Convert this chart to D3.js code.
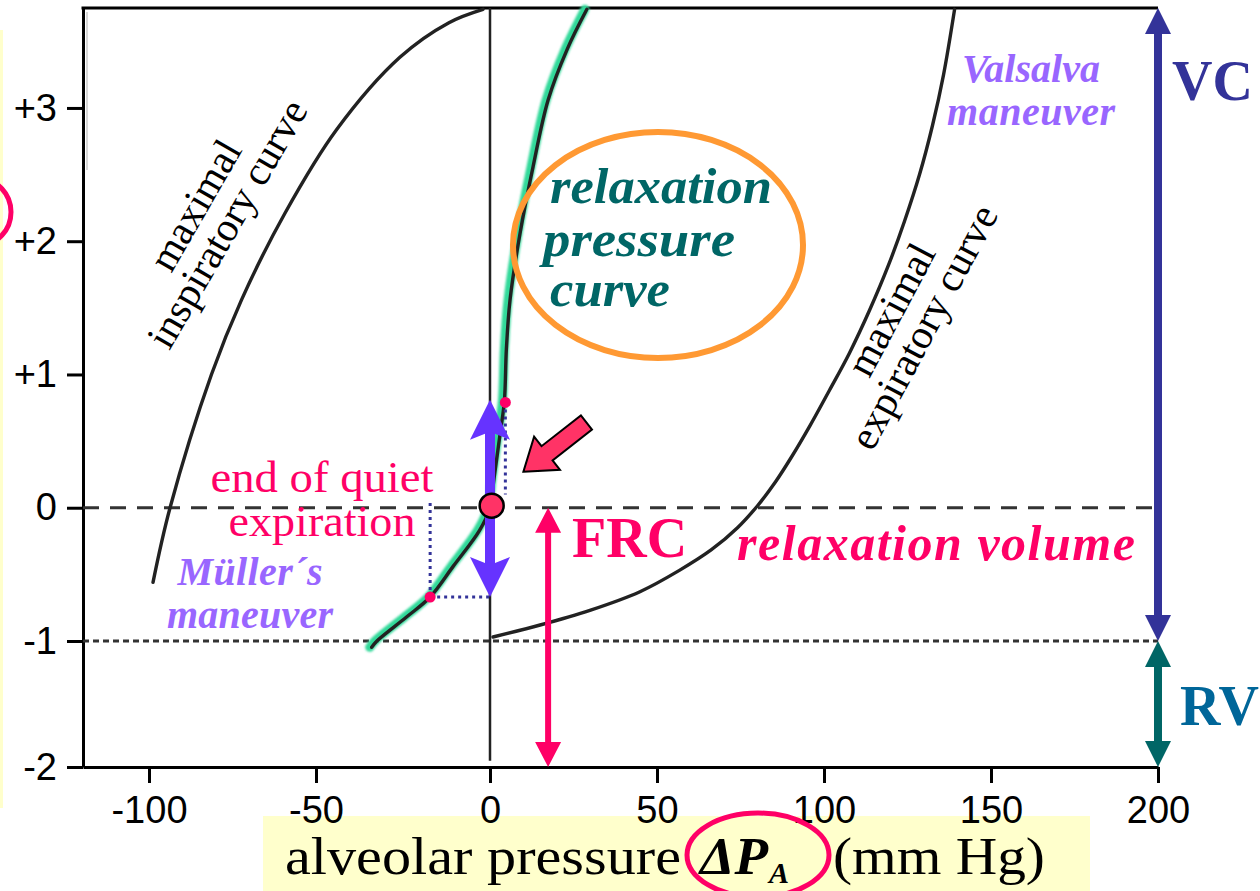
<!DOCTYPE html>
<html><head><meta charset="utf-8">
<script src="https://cdn.jsdelivr.net/npm/d3@7"></script>
<style>body{margin:0;background:#fff;overflow:hidden} svg{display:block}</style>
</head><body><svg id="c" width="1260" height="891"></svg>
<script>
// ---- data ----
const xTickValues = [-100, -50, 0, 50, 100, 150, 200];
const xTickLabels = ["-100", "-50", "0", "50", "100", "150", "200"];
const yTickValues = [3, 2, 1, 0, -1, -2];
const yTickLabels = ["+3", "+2", "+1", "0", "-1", "-2"];

const inspPressure = [-98.8, -93.7, -81.3, -72.3, -59.3, -44.0, -25.9, -11.8, -2.0];
const inspVolume   = [-0.56, 0, 1.0, 1.56, 2.21, 2.84, 3.38, 3.64, 3.74];

const relaxPressure = [-34, -32.5, -24, -17.2, -10.6, -3, 0, 1.2, 3, 4.3, 4.9, 6, 9, 12.9, 17.4, 23.1, 29];
const relaxVolume   = [-1.05, -1.0, -0.82, -0.67, -0.44, -0.17, 0, 0.22, 0.55, 0.8, 1.19, 1.56, 2.06, 2.56, 3.06, 3.44, 3.74];

const expPressure = [0.9, 15.0, 29.9, 44.9, 56.7, 66.3, 74.1, 80.1, 85.5, 90.5, 95.9, 101.6, 107.6, 113.6, 119.3, 124.1, 128.6, 132.5, 135.8, 139.1];
const expVolume   = [-0.97, -0.88, -0.77, -0.63, -0.47, -0.315, -0.15, 0.015, 0.195, 0.39, 0.62, 0.88, 1.16, 1.48, 1.82, 2.15, 2.5, 2.87, 3.25, 3.74];

const frcVolume = 0;          // end of quiet expiration
const rvVolume = -1;          // residual volume level
const topVolume = 3.75;
const bottomVolume = -2;
const zeroLineBottom = -1.95;
const frcArrowPressure = 17.4;
const tidalRange = [0.81, -0.67];
const mullerPoint = [-17.2, -0.67];
const valsalvaPoint = [4.6, 0.79];
const frcPoint = [0.5, 0.015];
const hintArrowTip = [10, 0.27];

// ---- scales ----
const x = d3.scaleLinear().domain([-120, -100, -50, 0, 200]).range([83, 149, 316, 490, 1158]);
const y = d3.scaleLinear().domain([-2, -1, 3.75]).range([767, 641, 8]);

const svg = d3.select("#c");
const serif = "'Liberation Serif','Times New Roman',serif";
const sans = "'Liberation Sans',Arial,sans-serif";

// background decorations
svg.append("rect").attr("x", 0).attr("y", 30).attr("width", 3).attr("height", 778).attr("fill", "#ffffcc");
svg.append("ellipse").attr("cx", -20).attr("cy", 212).attr("rx", 31).attr("ry", 33)
  .attr("fill", "none").attr("stroke", "#ff0066").attr("stroke-width", 5);
svg.append("rect").attr("x", 263).attr("y", 816).attr("width", 827).attr("height", 80).attr("fill", "#ffffcc");
svg.append("line").attr("x1", 87).attr("x2", 87).attr("y1", 12).attr("y2", 170)
  .attr("stroke", "#d8d8d8").attr("stroke-width", 2);

// axes
const yAxis = d3.axisLeft(y).tickValues(yTickValues).tickFormat((d, i) => yTickLabels[i])
  .tickSize(16).tickSizeOuter(0).tickPadding(10);
const gy = svg.append("g").attr("transform", `translate(${x(-120)},0)`).call(yAxis);
const xAxis = d3.axisBottom(x).tickValues(xTickValues).tickFormat((d, i) => xTickLabels[i])
  .tickSize(16).tickSizeOuter(0).tickPadding(13);
const gx = svg.append("g").attr("transform", `translate(0,${y(bottomVolume)})`).call(xAxis);
[gx, gy].forEach(g => {
  g.selectAll("path.domain").attr("stroke", "#000").attr("stroke-width", 3);
  g.selectAll(".tick line").attr("stroke", "#000").attr("stroke-width", 3);
  g.selectAll(".tick text").attr("fill", "#000").style("font-family", sans).style("font-size", "38px");
});
// top border
svg.append("line").attr("x1", x(-120) - 1.5).attr("x2", x(200)).attr("y1", y(topVolume)).attr("y2", y(topVolume))
  .attr("stroke", "#000").attr("stroke-width", 3);

// reference lines
svg.append("line").attr("x1", x(-120)).attr("x2", x(200)).attr("y1", y(frcVolume)).attr("y2", y(frcVolume))
  .attr("stroke", "#333").attr("stroke-width", 3).attr("stroke-dasharray", "16,11");
svg.append("line").attr("x1", x(-120)).attr("x2", x(200)).attr("y1", y(rvVolume)).attr("y2", y(rvVolume))
  .attr("stroke", "#333").attr("stroke-width", 3).attr("stroke-dasharray", "6,4");
svg.append("line").attr("x1", x(0)).attr("x2", x(0)).attr("y1", y(topVolume)).attr("y2", y(zeroLineBottom))
  .attr("stroke", "#222").attr("stroke-width", 2.5);

// curves
const line = d3.line().x(d => x(d[0])).y(d => y(d[1])).curve(d3.curveCatmullRom.alpha(0.5));
const insp = inspPressure.map((p, i) => [p, inspVolume[i]]);
const relax = relaxPressure.map((p, i) => [p, relaxVolume[i]]);
const expc = expPressure.map((p, i) => [p, expVolume[i]]);

const defs = svg.append("defs");
defs.append("filter").attr("id", "blur").append("feGaussianBlur").attr("stdDeviation", 1.3);

svg.append("path").datum(relax).attr("d", line).attr("fill", "none")
  .attr("stroke", "#33d99a").attr("stroke-width", 9).attr("stroke-linecap", "round")
  .attr("transform", "translate(-2,0)").attr("filter", "url(#blur)");
[insp, relax, expc].forEach(d => {
  svg.append("path").datum(d).attr("d", line).attr("fill", "none")
    .attr("stroke", "#222").attr("stroke-width", 3.4).attr("stroke-linecap", "round");
});

// dotted guides
const dotted = (x1, y1, x2, y2) => svg.append("line").attr("x1", x1).attr("y1", y1).attr("x2", x2).attr("y2", y2)
  .attr("stroke", "#333399").attr("stroke-width", 3).attr("stroke-dasharray", "3,4");
dotted(x(mullerPoint[0]), y(mullerPoint[1]), x(0), y(mullerPoint[1]));
dotted(x(mullerPoint[0]), y(mullerPoint[1]), x(mullerPoint[0]), y(0.05));
dotted(x(valsalvaPoint[0]), y(valsalvaPoint[1]), x(valsalvaPoint[0]), y(0.1));

// double arrows
function dblArrow(xv, vTop, vBot, w, hw, hl, n, color) {
  const X = x(xv), Y1 = y(vTop), Y2 = y(vBot);
  const pts = [[X, Y1], [X + hw / 2, Y1 + hl], [X + w / 2, Y1 + hl - n], [X + w / 2, Y2 - hl + n], [X + hw / 2, Y2 - hl],
    [X, Y2], [X - hw / 2, Y2 - hl], [X - w / 2, Y2 - hl + n], [X - w / 2, Y1 + hl - n], [X - hw / 2, Y1 + hl]];
  svg.append("polygon").attr("points", pts.map(p => p.join(",")).join(" ")).attr("fill", color);
}
dblArrow(200, topVolume, rvVolume, 8, 26, 26, 0, "#333399");
dblArrow(200, rvVolume, bottomVolume, 8, 26, 26, 0, "#006666");
dblArrow(frcArrowPressure, frcVolume, bottomVolume, 6, 26, 25, 0, "#ff0066");
dblArrow(0, tidalRange[0], tidalRange[1], 10, 40, 40, 6, "#6633ff");

// points
svg.append("circle").attr("cx", x(mullerPoint[0])).attr("cy", y(mullerPoint[1])).attr("r", 5.5).attr("fill", "#ff0066");
svg.append("circle").attr("cx", x(valsalvaPoint[0])).attr("cy", y(valsalvaPoint[1])).attr("r", 5.5).attr("fill", "#ff0066");
svg.append("circle").attr("cx", x(frcPoint[0])).attr("cy", y(frcPoint[1])).attr("r", 12)
  .attr("fill", "#ff3366").attr("stroke", "#000").attr("stroke-width", 2.5);

// block arrow pointing to FRC
const blk = [[0, 0], [-30, -21], [-30, -9], [-80, -9], [-80, 9], [-30, 9], [-30, 21]];
svg.append("polygon").attr("points", blk.map(p => p.join(",")).join(" "))
  .attr("transform", `translate(${x(hintArrowTip[0])},${y(hintArrowTip[1])}) rotate(142)`)
  .attr("fill", "#ff3366").attr("stroke", "#000").attr("stroke-width", 2).attr("stroke-linejoin", "miter");

// orange ellipse
svg.append("ellipse").attr("cx", 658).attr("cy", 245).attr("rx", 145).attr("ry", 113)
  .attr("fill", "none").attr("stroke", "#ff9933").attr("stroke-width", 6);

// texts
function txt(s, px, py, o) {
  const t = svg.append("text").attr("x", px).attr("y", py).text(s)
    .style("font-family", o.family || serif).style("font-size", o.size + "px")
    .attr("fill", o.color || "#000");
  if (o.bold) t.style("font-weight", "bold");
  if (o.italic) t.style("font-style", "italic");
  if (o.anchor) t.attr("text-anchor", o.anchor);
  if (o.len) t.attr("textLength", o.len).attr("lengthAdjust", o.adj || "spacing");
  if (o.rot !== undefined) t.attr("transform", `rotate(${o.rot},${px},${py})`);
  return t;
}
// rotated curve labels
function rotLabel(lines, cx, cy, ang, gap) {
  const r = ang * Math.PI / 180;
  const nx = -Math.sin(r), ny = Math.cos(r);
  lines.forEach((s, i) => {
    const px = cx + nx * gap * i, py = cy + ny * gap * i;
    txt(s, px, py, {size: 41, anchor: "middle", rot: ang});
  });
}
rotLabel(["maximal", "inspiratory curve"], 207, 212, -60, 37);
rotLabel(["maximal", "expiratory curve"], 903, 316, -62, 37);

txt("relaxation", 550, 203, {size: 50, bold: true, italic: true, color: "#006666", len: 222, adj: "spacingAndGlyphs"});
txt("pressure", 543, 256, {size: 50, bold: true, italic: true, color: "#006666", len: 192, adj: "spacingAndGlyphs"});
txt("curve", 550, 306, {size: 50, bold: true, italic: true, color: "#006666", len: 120, adj: "spacingAndGlyphs"});

txt("Valsalva", 1031, 82, {size: 40, bold: true, italic: true, color: "#9966ff", anchor: "middle", len: 138});
txt("maneuver", 1031, 125, {size: 40, bold: true, italic: true, color: "#9966ff", anchor: "middle", len: 168});
txt("Müller´s", 250, 585, {size: 40, bold: true, italic: true, color: "#9966ff", anchor: "middle", len: 145});
txt("maneuver", 250, 628, {size: 40, bold: true, italic: true, color: "#9966ff", anchor: "middle", len: 166});

txt("end of quiet", 322, 492, {size: 44, color: "#ff0066", anchor: "middle", len: 223, adj: "spacingAndGlyphs"});
txt("expiration", 322, 536, {size: 44, color: "#ff0066", anchor: "middle", len: 187, adj: "spacingAndGlyphs"});

txt("FRC", 572, 557, {size: 56, bold: true, color: "#ff0066"});
txt("relaxation volume", 737, 560, {size: 50, bold: true, italic: true, color: "#ff0066", len: 398});
txt("VC", 1172, 100, {size: 56, bold: true, color: "#333399"});
txt("RV", 1180, 725, {size: 56, bold: true, color: "#006699"});

// axis title
txt("alveolar pressure", 285, 874, {size: 52, len: 396, adj: "spacingAndGlyphs"});
txt("\u0394P", 700, 874, {size: 52, bold: true, italic: true, len: 68, adj: "spacingAndGlyphs"});
txt("A", 769, 883, {size: 30, bold: true, italic: true});
txt("(mm Hg)", 833, 874, {size: 52, len: 212, adj: "spacingAndGlyphs"});
svg.append("ellipse").attr("cx", 758).attr("cy", 855).attr("rx", 71).attr("ry", 42)
  .attr("fill", "none").attr("stroke", "#ff0066").attr("stroke-width", 5);
</script>
</body></html>
